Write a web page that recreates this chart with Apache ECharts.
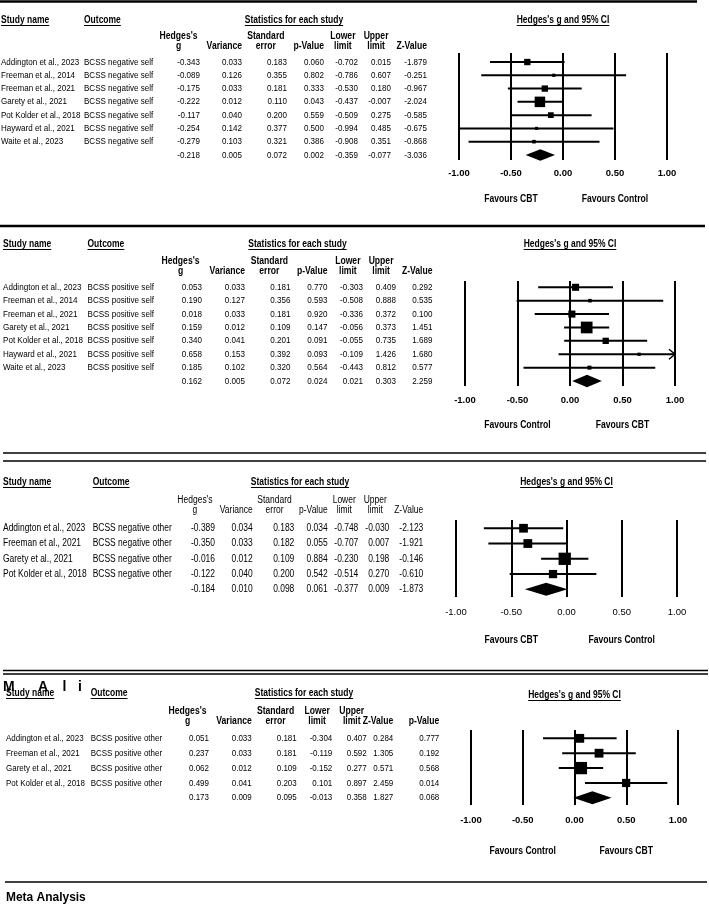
<!DOCTYPE html>
<html><head><meta charset="utf-8">
<script src="https://cdn.jsdelivr.net/npm/echarts@6/dist/echarts.min.js"></script>
<style>html,body{margin:0;padding:0;background:#fff}#c{width:709px;height:904px}</style>
</head><body><div id="c"></div>
<script>
// ---------------- DATA ----------------
const p1Studies = ["Addington et al., 2023","Freeman et al., 2014","Freeman et al., 2021","Garety et al., 2021","Pot Kolder et al., 2018","Hayward et al., 2021","Waite et al., 2023"];
const p1Outcome = ["BCSS negative self","BCSS negative self","BCSS negative self","BCSS negative self","BCSS negative self","BCSS negative self","BCSS negative self"];
const p1G     = [-0.343,-0.089,-0.175,-0.222,-0.117,-0.254,-0.279,-0.218];
const p1Var   = [0.033,0.126,0.033,0.012,0.040,0.142,0.103,0.005];
const p1SE    = [0.183,0.355,0.181,0.110,0.200,0.377,0.321,0.072];
const p1P     = [0.060,0.802,0.333,0.043,0.559,0.500,0.386,0.002];
const p1Lower = [-0.702,-0.786,-0.530,-0.437,-0.509,-0.994,-0.908,-0.359];
const p1Upper = [0.015,0.607,0.180,-0.007,0.275,0.485,0.351,-0.077];
const p1Z     = [-1.879,-0.251,-0.967,-2.024,-0.585,-0.675,-0.868,-3.036];
const p1Favours = ["Favours CBT","Favours Control"];

const p2Studies = ["Addington et al., 2023","Freeman et al., 2014","Freeman et al., 2021","Garety et al., 2021","Pot Kolder et al., 2018","Hayward et al., 2021","Waite et al., 2023"];
const p2Outcome = ["BCSS positive self","BCSS positive self","BCSS positive self","BCSS positive self","BCSS positive self","BCSS positive self","BCSS positive self"];
const p2G     = [0.053,0.190,0.018,0.159,0.340,0.658,0.185,0.162];
const p2Var   = [0.033,0.127,0.033,0.012,0.041,0.153,0.102,0.005];
const p2SE    = [0.181,0.356,0.181,0.109,0.201,0.392,0.320,0.072];
const p2P     = [0.770,0.593,0.920,0.147,0.091,0.093,0.564,0.024];
const p2Lower = [-0.303,-0.508,-0.336,-0.056,-0.055,-0.109,-0.443,0.021];
const p2Upper = [0.409,0.888,0.372,0.373,0.735,1.426,0.812,0.303];
const p2Z     = [0.292,0.535,0.100,1.451,1.689,1.680,0.577,2.259];
const p2Favours = ["Favours Control","Favours CBT"];

const p3Studies = ["Addington et al., 2023","Freeman et al., 2021","Garety et al., 2021","Pot Kolder et al., 2018"];
const p3Outcome = ["BCSS negative other","BCSS negative other","BCSS negative other","BCSS negative other"];
const p3G     = [-0.389,-0.350,-0.016,-0.122,-0.184];
const p3Var   = [0.034,0.033,0.012,0.040,0.010];
const p3SE    = [0.183,0.182,0.109,0.200,0.098];
const p3P     = [0.034,0.055,0.884,0.542,0.061];
const p3Lower = [-0.748,-0.707,-0.230,-0.514,-0.377];
const p3Upper = [-0.030,0.007,0.198,0.270,0.009];
const p3Z     = [-2.123,-1.921,-0.146,-0.610,-1.873];
const p3Favours = ["Favours CBT","Favours Control"];

const p4Studies = ["Addington et al., 2023","Freeman et al., 2021","Garety et al., 2021","Pot Kolder et al., 2018"];
const p4Outcome = ["BCSS positive other","BCSS positive other","BCSS positive other","BCSS positive other"];
const p4G     = [0.051,0.237,0.062,0.499,0.173];
const p4Var   = [0.033,0.033,0.012,0.041,0.009];
const p4SE    = [0.181,0.181,0.109,0.203,0.095];
const p4Lower = [-0.304,-0.119,-0.152,0.101,-0.013];
const p4Upper = [0.407,0.592,0.277,0.897,0.358];
const p4Z     = [0.284,1.305,0.571,2.459,1.827];
const p4P     = [0.777,0.192,0.568,0.014,0.068];
const p4Favours = ["Favours Control","Favours CBT"];

const headsA = ["Hedges's\ng","Variance","Standard\nerror","p-Value","Lower\nlimit","Upper\nlimit","Z-Value"];
const headsB = ["Hedges's\ng","Variance","Standard\nerror","Lower\nlimit","Upper\nlimit","Z-Value","p-Value"];
const xMinVal = -1, xMaxVal = 1, xStep = 0.5;
const titleStudy = "Study name", titleOutcome = "Outcome", titleStats = "Statistics for each study", titleCI = "Hedges's g and 95% CI";
const footer = "Meta Analysis";
const strayLetters = ["M","A","l","i"];

// ---------------- LAYOUT ----------------
const FONT = 'Liberation Sans';
const panels = [
  {studies:p1Studies, outcome:p1Outcome, g:p1G, v:p1Var, lo:p1Lower, hi:p1Upper, cols:[p1G,p1Var,p1SE,p1P,p1Lower,p1Upper,p1Z], heads:headsA, fav:p1Favours,
   grid:{left:459, top:53, width:208, height:107}, yMin:-0.68, yMax:7.38,
   colRight:[200,242,287,324,358,391,427], studyX:1, outcomeX:84, titleY:20, statsX:294, headY:[36,46], favY:199, margin:8,
   headBold:true, tickBold:true, bodySize:9.5, bodyScale:0.845, maxSide:10.5, expo:0.5, dh:5.8},
  {studies:p2Studies, outcome:p2Outcome, g:p2G, v:p2Var, lo:p2Lower, hi:p2Upper, cols:[p2G,p2Var,p2SE,p2P,p2Lower,p2Upper,p2Z], heads:headsA, fav:p2Favours,
   grid:{left:465, top:281, width:210, height:105}, yMin:-0.47, yMax:7.37,
   colRight:[202,245,290.5,327.5,363,396,432.5], studyX:3, outcomeX:87.5, titleY:244, statsX:297.5, headY:[261,271], favY:425, margin:9,
   headBold:true, tickBold:true, bodySize:9.5, bodyScale:0.85, maxSide:11.7, expo:0.5, dh:6.3},
  {studies:p3Studies, outcome:p3Outcome, g:p3G, v:p3Var, lo:p3Lower, hi:p3Upper, cols:[p3G,p3Var,p3SE,p3P,p3Lower,p3Upper,p3Z], heads:headsA, fav:p3Favours,
   grid:{left:456, top:520, width:221, height:77}, yMin:-0.54, yMax:4.5,
   colRight:[215,252.7,294.3,327.7,358.3,389.3,423.3], studyX:3, outcomeX:92.7, titleY:482, statsX:300, headY:[500,510], favY:640, margin:10,
   headBold:false, tickBold:false, bodySize:10, bodyScale:0.846, maxSide:12.3, expo:0.33, dh:6.5},
  {studies:p4Studies, outcome:p4Outcome, g:p4G, v:p4Var, lo:p4Lower, hi:p4Upper, cols:[p4G,p4Var,p4SE,p4Lower,p4Upper,p4Z,p4P], heads:headsB, fav:p4Favours,
   grid:{left:471, top:730, width:207, height:75}, yMin:-0.56, yMax:4.48,
   colRight:[209,251.7,296.7,332.3,366.7,393.3,439.3], studyX:6, outcomeX:90.7, titleY:693, ciTitleY:695, statsX:304, headY:[711,721], favY:851, margin:10,
   headBold:true, tickBold:true, bodySize:9.5, bodyScale:0.84, maxSide:12.3, expo:0.33, dh:6.5}
];

const mctx = document.createElement('canvas').getContext('2d');
function measure(text, size, bold){
  mctx.font = (bold ? 'bold ' : '') + size + 'px "' + FONT + '"';
  return mctx.measureText(text).width;
}
function txt(x, y, text, o){
  o = o || {};
  return {type:'text', x:x, y:y, scaleX:o.scale || 1, silent:true,
    style:{text:text, fill:'#000', fontFamily:FONT, fontSize:o.size || 10, fontWeight:o.bold ? 'bold' : 'normal',
      align:o.align || 'left', textAlign:o.align || 'left', verticalAlign:'middle', textVerticalAlign:'middle'}};
}
function line(x1,y1,x2,y2,w){
  return {type:'line', silent:true, shape:{x1:x1,y1:y1,x2:x2,y2:y2}, style:{stroke:'#000', lineWidth:w}};
}

function makeRenderer(P){
  const n = P.g.length;
  let wmax = 0;
  for (let i = 0; i < n - 1; i++) wmax = Math.max(wmax, 1 / P.v[i]);
  return function(params, api){
    const i = api.value(1);
    const g = api.value(0), lo = api.value(2), hi = api.value(3);
    const y = api.coord([0, i])[1];
    const kids = [];
    const isSum = i === n - 1;
    const bs = P.bodySize, sc = P.bodyScale;
    if (!isSum){
      kids.push(txt(P.studyX, y, P.studies[i], {size:bs, scale:sc}));
      kids.push(txt(P.outcomeX, y, P.outcome[i], {size:bs, scale:sc}));
    }
    P.cols.forEach(function(arr, c){
      kids.push(txt(P.colRight[c], y, arr[i].toFixed(3), {size:bs, scale:sc, align:'right'}));
    });
    if (isSum){
      const a = api.coord([lo, i])[0], b = api.coord([g, i])[0], c = api.coord([hi, i])[0];
      kids.push({type:'polygon', shape:{points:[[a,y],[b,y-P.dh],[c,y],[b,y+P.dh]]}, style:{fill:'#000'}});
    } else {
      const a = api.coord([Math.max(lo, xMinVal), i])[0], c = api.coord([Math.min(hi, xMaxVal), i])[0];
      kids.push(line(a, y, c, y, 2));
      if (hi > xMaxVal){
        kids.push({type:'polyline', shape:{points:[[c-6,y-5],[c,y],[c-6,y+5]]}, style:{stroke:'#000', lineWidth:1.5, fill:null}});
      }
      if (lo < xMinVal){
        kids.push({type:'polyline', shape:{points:[[a+6,y-5],[a,y],[a+6,y+5]]}, style:{stroke:'#000', lineWidth:1.5, fill:null}});
      }
      const s = P.maxSide * Math.pow((1 / P.v[i]) / wmax, P.expo);
      const cx = api.coord([g, i])[0];
      kids.push({type:'rect', shape:{x:cx - s/2, y:y - s/2, width:s, height:s}, style:{fill:'#000'}});
    }
    return {type:'group', children:kids};
  };
}

const chart = echarts.init(document.getElementById('c'), null, {renderer:'canvas'});
const grids = [], xAxes = [], yAxes = [], series = [];
panels.forEach(function(P, k){
  grids.push({left:P.grid.left, top:P.grid.top, width:P.grid.width, height:P.grid.height, outerBoundsMode:'none', containLabel:false});
  xAxes.push({gridIndex:k, type:'value', min:xMinVal, max:xMaxVal, interval:xStep,
    axisLine:{show:false}, axisTick:{show:false},
    splitLine:{show:true, showMinLine:true, showMaxLine:true, lineStyle:{color:'#000', width:2}},
    axisLabel:{show:true, showMinLabel:true, showMaxLabel:true, margin:P.margin, color:'#000', fontFamily:FONT, fontSize:9.5,
      fontWeight:P.tickBold ? 'bold' : 'normal', formatter:function(v){ return v.toFixed(2); }}});
  yAxes.push({gridIndex:k, type:'value', inverse:true, min:P.yMin, max:P.yMax, show:false, splitLine:{show:false}});
  series.push({type:'custom', xAxisIndex:k, yAxisIndex:k, renderItem:makeRenderer(P), clip:false, silent:true, animation:false,
    encode:{x:0, y:1}, data:P.g.map(function(g, i){ return [g, i, P.lo[i], P.hi[i]]; })});
});
chart.setOption({backgroundColor:'#fff', animation:false, grid:grids, xAxis:xAxes, yAxis:yAxes, series:series});

// ---------------- DECORATION ----------------
const G = [];
const HS = 10, HSC = 0.85;
function underlined(x, y, text, align){
  const w = measure(text, HS, true) * HSC;
  G.push(txt(x, y, text, {size:HS, bold:true, scale:HSC, align:align}));
  const x1 = align === 'center' ? x - w/2 : x;
  G.push(line(x1, y + 5.5, x1 + w, y + 5.5, 1));
}
// horizontal rules
G.push(line(0, 1.5, 697, 1.5, 2.5));
G.push(line(0, 226, 705, 226, 2.5));
G.push(line(3, 453, 706, 453, 1.5));
G.push(line(3, 461, 706, 461, 1.5));
G.push(line(3, 670.5, 708, 670.5, 1.5));
G.push(line(3, 674, 708, 674, 1.5));
G.push(line(5, 882, 707, 882, 1.5));

panels.forEach(function(P, k){
  underlined(P.studyX, P.titleY, titleStudy, 'left');
  underlined(P.outcomeX, P.titleY, titleOutcome, 'left');
  underlined(P.statsX, P.titleY, titleStats, 'center');
  const x0 = chart.convertToPixel({xAxisIndex:k}, 0);
  underlined(x0, P.ciTitleY || P.titleY, titleCI, 'center');
  // column headers
  const cs = P.headBold ? 0.86 : 0.85;
  P.heads.forEach(function(h, c){
    const parts = h.split('\n');
    if (parts.length === 1){
      G.push(txt(P.colRight[c], P.headY[1], parts[0], {size:10, bold:P.headBold, scale:cs, align:'right'}));
    } else {
      const wmax = Math.max.apply(null, parts.map(function(p){ return measure(p, 10, P.headBold) * cs; }));
      const cx = P.colRight[c] - 2.5 - wmax/2;
      G.push(txt(cx, P.headY[0], parts[0], {size:10, bold:P.headBold, scale:cs, align:'center'}));
      G.push(txt(cx, P.headY[1], parts[1], {size:10, bold:P.headBold, scale:cs, align:'center'}));
    }
  });
  // favours labels under -0.5 and 0.5
  const xa = chart.convertToPixel({xAxisIndex:k}, -xStep), xb = chart.convertToPixel({xAxisIndex:k}, xStep);
  G.push(txt(xa, P.favY, P.fav[0], {size:10, bold:true, scale:0.86, align:'center'}));
  G.push(txt(xb, P.favY, P.fav[1], {size:10, bold:true, scale:0.86, align:'center'}));
});
// stray letters
const strayX = [3, 38, 62.5, 78];
strayLetters.forEach(function(l, i){ G.push(txt(strayX[i], 686.5, l, {size:15, bold:true, scale:0.93})); });
G.push(txt(6, 897, footer, {size:13, bold:true, scale:0.92}));

chart.setOption({graphic:{elements:G}});
</script>
</body></html>
